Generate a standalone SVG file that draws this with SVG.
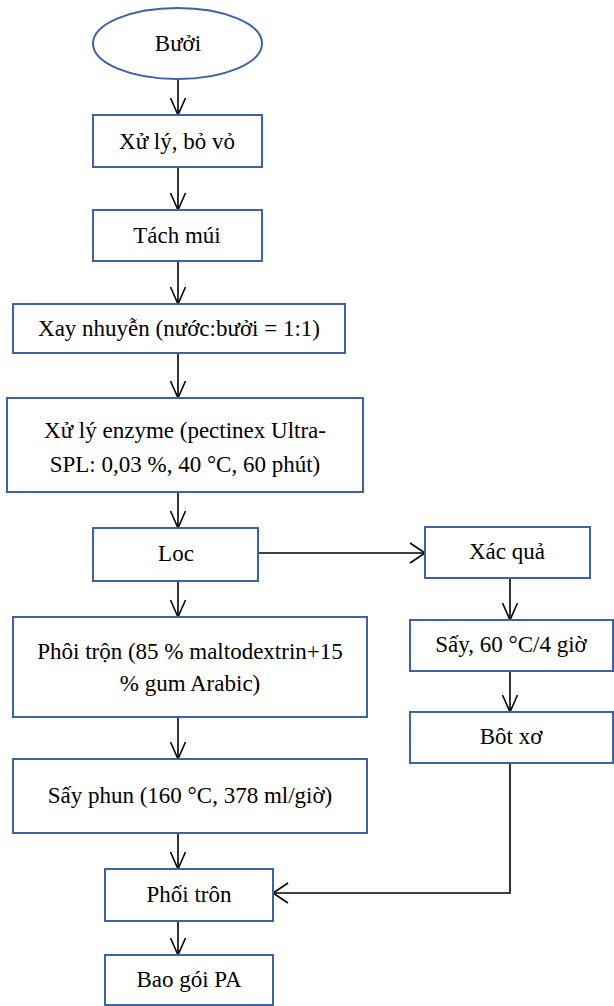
<svg xmlns="http://www.w3.org/2000/svg" width="614" height="1006" viewBox="0 0 614 1006">
<style>
.n{fill:#fff;stroke:#3D62A8;stroke-width:2}
.t{font-family:"Liberation Serif","Times New Roman",serif;font-size:23px;fill:#000;text-anchor:middle}
.c{fill:none;stroke:#000;stroke-width:1.6}
</style>
<defs>
<marker id="av" markerUnits="userSpaceOnUse" markerWidth="40" markerHeight="40" refX="0" refY="0" viewBox="-20 -20 40 40" orient="auto" overflow="visible">
<path d="M-17,-7.5 L0,0 L-17,7.5" fill="none" stroke="#000" stroke-width="1.6"/>
</marker>
<marker id="ah" markerUnits="userSpaceOnUse" markerWidth="40" markerHeight="40" refX="0" refY="0" viewBox="-20 -20 40 40" orient="auto" overflow="visible">
<path d="M-15,-10 L0,0 L-15,10" fill="none" stroke="#000" stroke-width="1.6"/>
</marker>
</defs>
<rect width="614" height="1006" fill="#fff"/>
<g id="connectors">
<line class="c" x1="178" y1="79" x2="178" y2="115" marker-end="url(#av)"/>
<line class="c" x1="178" y1="167" x2="178" y2="210" marker-end="url(#av)"/>
<line class="c" x1="178" y1="261" x2="178" y2="304" marker-end="url(#av)"/>
<line class="c" x1="178" y1="353" x2="178" y2="398" marker-end="url(#av)"/>
<line class="c" x1="178" y1="492" x2="178" y2="528" marker-end="url(#av)"/>
<line class="c" x1="258" y1="553" x2="425" y2="553" marker-end="url(#ah)"/>
<line class="c" x1="178" y1="581" x2="178" y2="617" marker-end="url(#av)"/>
<line class="c" x1="510" y1="578" x2="510" y2="620" marker-end="url(#av)"/>
<line class="c" x1="510" y1="671" x2="510" y2="712" marker-end="url(#av)"/>
<line class="c" x1="178" y1="717" x2="178" y2="759" marker-end="url(#av)"/>
<line class="c" x1="178" y1="833" x2="178" y2="869" marker-end="url(#av)"/>
<path class="c" d="M510,763 V893 H273" marker-end="url(#ah)"/>
<line class="c" x1="178" y1="921" x2="178" y2="955" marker-end="url(#av)"/>
</g>
<g id="buoi">
<ellipse class="n" cx="177.5" cy="43.5" rx="84.5" ry="35.5"/>
<text class="t" x="178" y="51">Bưởi</text>
</g>
<g id="xuly">
<rect class="n" x="93" y="115" width="169" height="52"/>
<text class="t" x="177" y="149">Xử lý, bỏ vỏ</text>
</g>
<g id="tachmui">
<rect class="n" x="93" y="210" width="169" height="51"/>
<text class="t" x="177" y="243">Tách múi</text>
</g>
<g id="xaynhuyen">
<rect class="n" x="13" y="304" width="332" height="49"/>
<text class="t" x="179" y="336">Xay nhuyễn (nước:bưởi = 1:1)</text>
</g>
<g id="enzyme">
<rect class="n" x="7" y="398" width="356" height="94"/>
<text class="t" x="185" y="438">Xử lý enzyme (pectinex Ultra-</text>
<text class="t" x="185" y="472">SPL: 0,03 %, 40 °C, 60 phút)</text>
</g>
<g id="loc">
<rect class="n" x="93" y="528" width="165" height="53"/>
<text class="t" x="176" y="561">Loc</text>
</g>
<g id="xacqua">
<rect class="n" x="425" y="527" width="165" height="51"/>
<text class="t" x="507" y="559">Xác quả</text>
</g>
<g id="phoitron1">
<rect class="n" x="13" y="617" width="354" height="100"/>
<text class="t" x="190" y="659">Phôi trộn (85 % maltodextrin+15</text>
<text class="t" x="190" y="691">% gum Arabic)</text>
</g>
<g id="say">
<rect class="n" x="410" y="620" width="203" height="51"/>
<text class="t" x="511" y="652">Sấy, 60 °C/4 giờ</text>
</g>
<g id="botxo">
<rect class="n" x="410" y="712" width="203" height="51"/>
<text class="t" x="511" y="744">Bôt xơ</text>
</g>
<g id="sayphun">
<rect class="n" x="13" y="759" width="354" height="74"/>
<text class="t" x="190" y="803">Sấy phun (160 °C, 378 ml/giờ)</text>
</g>
<g id="phoitron2">
<rect class="n" x="105" y="869" width="168" height="52"/>
<text class="t" x="189" y="902">Phối trôn</text>
</g>
<g id="baogoi">
<rect class="n" x="105" y="955" width="168" height="50"/>
<text class="t" x="189" y="987">Bao gói PA</text>
</g>
</svg>
